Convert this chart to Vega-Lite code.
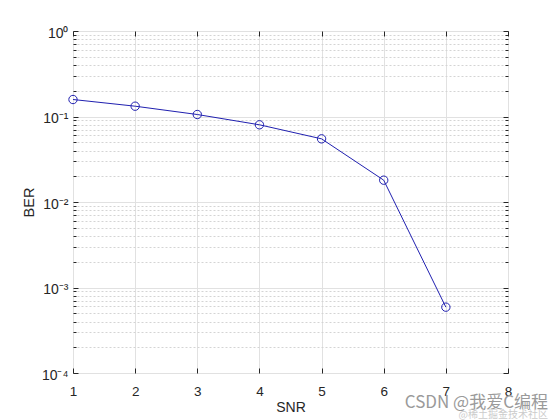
{
  "$schema": "https://vega.github.io/schema/vega-lite/v6.json",
  "width": 435,
  "height": 342,
  "autosize": "none",
  "padding": {"left": 73, "top": 31, "right": 52, "bottom": 47},
  "background": "white",
  "config": {
    "font": "Liberation Sans",
    "view": {"stroke": "#262626", "strokeWidth": 1}
  },
  "title": {
    "text": "CSDN @我爱C编程",
    "subtitle": "@稀土掘金技术社区",
    "orient": "bottom",
    "anchor": "end",
    "frame": "group",
    "font": "Noto Sans CJK SC",
    "fontSize": 17,
    "fontWeight": "normal",
    "color": "#9a9a9a",
    "subtitleFont": "Noto Sans CJK SC",
    "subtitleFontSize": 10,
    "subtitleColor": "#cccccc",
    "subtitlePadding": -2,
    "offset": -20,
    "dx": 40
  },
  "data": {
    "values": [
      {"SNR": 1, "BER": 0.158},
      {"SNR": 2, "BER": 0.132},
      {"SNR": 3, "BER": 0.1055},
      {"SNR": 4, "BER": 0.080},
      {"SNR": 5, "BER": 0.0548},
      {"SNR": 6, "BER": 0.0180},
      {"SNR": 7, "BER": 0.000589}
    ]
  },
  "layer": [
    {
      "mark": {"type": "line", "color": "#2020b0", "strokeWidth": 1},
      "encoding": {
        "x": {
          "field": "SNR", "type": "quantitative",
          "scale": {"domain": [1, 8], "nice": false, "zero": false},
          "axis": {
            "orient": "bottom",
            "values": [1, 2, 3, 4, 5, 6, 7, 8],
            "title": "SNR",
            "titleFontSize": 14, "titleFontWeight": "normal", "titleColor": "#262626",
            "titlePadding": 3,
            "labelFontSize": 13.5, "labelColor": "#262626", "labelPadding": 16,
            "labelFlush": false,
            "domain": false,
            "ticks": true, "tickSize": -5, "tickColor": "#262626",
            "grid": true, "gridColor": "#e1e1e1", "gridWidth": 1
          }
        },
        "y": {
          "field": "BER", "type": "quantitative",
          "scale": {"type": "log", "domain": [0.0001, 1], "nice": false},
          "axis": {
            "orient": "left",
            "values": [0.0001, 0.0002, 0.0003, 0.0004, 0.0005, 0.0006, 0.0007, 0.0008, 0.0009,
                       0.001, 0.002, 0.003, 0.004, 0.005, 0.006, 0.007, 0.008, 0.009,
                       0.01, 0.02, 0.03, 0.04, 0.05, 0.06, 0.07, 0.08, 0.09,
                       0.1, 0.2, 0.3, 0.4, 0.5, 0.6, 0.7, 0.8, 0.9, 1],
            "labelExpr": "datum.value >= 0.99 ? '10⁰' : (abs(datum.value - 0.1) < 1e-6 ? '10⁻¹' : (abs(datum.value - 0.01) < 1e-7 ? '10⁻²' : (abs(datum.value - 0.001) < 1e-8 ? '10⁻³' : (abs(datum.value - 0.0001) < 1e-9 ? '10⁻⁴' : ''))))",
            "title": "BER",
            "titleFontSize": 14.5, "titleFontWeight": "normal", "titleColor": "#262626",
            "titlePadding": 5,
            "labelFontSize": 14, "labelColor": "#262626", "labelPadding": 10,
            "labelOffset": 2,
            "labelFlush": false, "labelOverlap": false, "labelBaseline": "middle",
            "domain": false,
            "ticks": true,
            "tickColor": "#262626",
            "tickSize": {"condition": {"test": "abs(log(datum.value)/LN10 - round(log(datum.value)/LN10)) < 0.01", "value": -5}, "value": -3},
            "grid": true,
            "gridColor": {"condition": {"test": "abs(log(datum.value)/LN10 - round(log(datum.value)/LN10)) < 0.01", "value": "#e1e1e1"}, "value": "#d4d4d4"},
            "gridDash": {"condition": {"test": "abs(log(datum.value)/LN10 - round(log(datum.value)/LN10)) < 0.01", "value": []}, "value": [2, 2]}
          }
        }
      }
    },
    {
      "mark": {"type": "point", "shape": "circle", "filled": false, "color": "#2020b0", "size": 70, "strokeWidth": 1, "opacity": 1},
      "encoding": {
        "x": {
          "field": "SNR", "type": "quantitative",
          "axis": {
            "orient": "top", "values": [1, 2, 3, 4, 5, 6, 7, 8],
            "labels": false, "title": null, "domain": false, "grid": false,
            "ticks": true, "tickSize": -5, "tickColor": "#262626"
          }
        },
        "y": {
          "field": "BER", "type": "quantitative",
          "axis": {
            "orient": "right",
            "values": [0.0001, 0.0002, 0.0003, 0.0004, 0.0005, 0.0006, 0.0007, 0.0008, 0.0009,
                       0.001, 0.002, 0.003, 0.004, 0.005, 0.006, 0.007, 0.008, 0.009,
                       0.01, 0.02, 0.03, 0.04, 0.05, 0.06, 0.07, 0.08, 0.09,
                       0.1, 0.2, 0.3, 0.4, 0.5, 0.6, 0.7, 0.8, 0.9, 1],
            "labels": false, "title": null, "domain": false, "grid": false,
            "ticks": true, "tickColor": "#262626",
            "tickSize": {"condition": {"test": "abs(log(datum.value)/LN10 - round(log(datum.value)/LN10)) < 0.01", "value": -5}, "value": -3}
          }
        }
      }
    }
  ],
  "resolve": {"axis": {"x": "independent", "y": "independent"}}
}
